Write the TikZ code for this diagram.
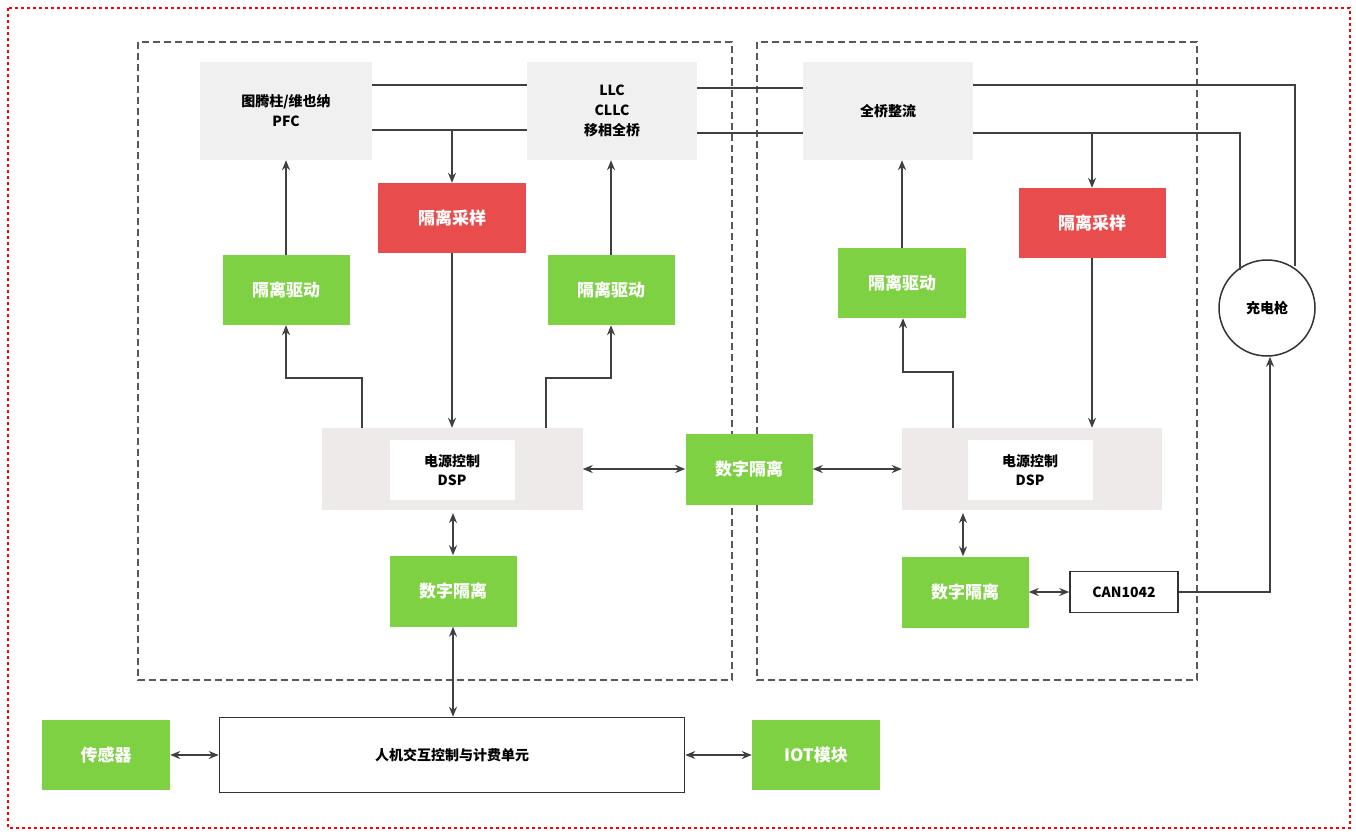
\documentclass[tikz,border=0pt]{standalone}
\usepackage{fontspec}
\setmainfont{Noto Sans CJK SC}
\usetikzlibrary{arrows.meta}
\definecolor{gr}{HTML}{7ED143}
\definecolor{rd}{HTML}{E84C4C}
\definecolor{lg}{HTML}{F0F0F0}
\definecolor{dg}{HTML}{EEEAEA}
\tikzset{
 bx/.style={inner sep=0pt,align=center},
 gbox/.style={bx,fill=gr,text=white,font=\fontsize{17}{20}\selectfont\bfseries},
 rbox/.style={bx,fill=rd,text=white,font=\fontsize{17}{20}\selectfont\bfseries},
 pbox/.style={bx,fill=lg,font=\fontsize{14}{20}\selectfont\bfseries},
 sm/.style={font=\fontsize{14}{19}\selectfont\bfseries},
 ln/.style={draw=black!75,line width=1.6pt},
 ar/.style={ln,-{Stealth[length=10pt,width=8pt]}},
 dar/.style={ln,{Stealth[length=10pt,width=8pt]}-{Stealth[length=10pt,width=8pt]}},
}
\begin{document}
\begin{tikzpicture}[x=1pt,y=-1pt]
\useasboundingbox (0,0) rectangle (1356,833);
\draw[red,dashed,line width=1.3pt] (8,8) rectangle (1350,828);
\draw[black!65,dashed,line width=2pt,dash pattern=on 7pt off 4pt] (138,42) rectangle (732,680);
\draw[black!65,dashed,line width=2pt,dash pattern=on 7pt off 4pt] (757,42) rectangle (1197,680);
% power boxes
\node[pbox,minimum width=172,minimum height=98] (pfc) at (286,111) {图腾柱/维也纳\\PFC};
\node[pbox,minimum width=170,minimum height=98] (llc) at (612,111) {LLC\\CLLC\\移相全桥};
\node[pbox,minimum width=170,minimum height=98] (qz) at (888,111) {全桥整流};
% sampling
\node[rbox,minimum width=148,minimum height=70] (s1) at (452,218) {隔离采样};
\node[rbox,minimum width=147,minimum height=70] (s2) at (1092,223) {隔离采样};
% drives
\node[gbox,minimum width=127,minimum height=70] (d1) at (286,290) {隔离驱动};
\node[gbox,minimum width=127,minimum height=70] (d2) at (611,290) {隔离驱动};
\node[gbox,minimum width=128,minimum height=70] (d3) at (902,283) {隔离驱动};
% DSP
\node[bx,fill=dg,minimum width=261,minimum height=82] (dsp1) at (452,469) {};
\node[bx,fill=white,minimum width=125,minimum height=60,sm] at (452,470) {电源控制\\DSP};
\node[bx,fill=dg,minimum width=260,minimum height=82] (dsp2) at (1032,469) {};
\node[bx,fill=white,minimum width=125,minimum height=60,sm] at (1030,470) {电源控制\\DSP};
% digital isolation
\node[gbox,minimum width=127,minimum height=71] (di0) at (749,469) {数字隔离};
\node[gbox,minimum width=127,minimum height=71] (di1) at (453,591) {数字隔离};
\node[gbox,minimum width=127,minimum height=71] (di2) at (965,592) {数字隔离};
\node[bx,draw=black!80,line width=1.5pt,minimum width=108,minimum height=41,sm] (can) at (1124,592) {CAN1042};
\node[circle,draw=black!80,line width=1.5pt,minimum size=96,inner sep=0pt,sm] (gun) at (1267,308) {充电枪};
% bottom
\node[bx,draw=black!80,line width=1.5pt,minimum width=465,minimum height=75,sm] (hmi) at (452,755) {人机交互控制与计费单元};
\node[gbox,minimum width=128,minimum height=70] (sen) at (106,755) {传感器};
\node[gbox,minimum width=128,minimum height=70] (iot) at (816,755) {IOT模块};
% power lines
\draw[ln] (pfc.east|-0,85) -- (llc.west|-0,85);
\draw[ln] (pfc.east|-0,130) -- (llc.west|-0,130);
\draw[ar] (452,130) -- (s1.north);
\draw[ln] (llc.east|-0,88) -- (qz.west|-0,88);
\draw[ln] (llc.east|-0,133) -- (qz.west|-0,133);
\draw[ln] (qz.east|-0,85) -- (1295,85) -- (1295,266);
\draw[ln] (qz.east|-0,133) -- (1240,133) -- (1240,270);
\draw[ar] (1092,133) -- (s2.north);
% drive arrows
\draw[ar] (d1.north) -- (pfc.south-|d1.north);
\draw[ar] (d2.north) -- (llc.south-|d2.north);
\draw[ar] (d3.north) -- (qz.south-|d3.north);
\draw[ar] (dsp1.north-|362,0) -- (362,378) -- (286,378) -- (d1.south);
\draw[ar] (dsp1.north-|546,0) -- (546,378) -- (611,378) -- (d2.south);
\draw[ar] (dsp2.north-|953,0) -- (953,372) -- (903,372) -- (d3.south-|903,0);
\draw[ar] (s1.south) -- (dsp1.north-|s1.south);
\draw[ar] (s2.south) -- (dsp2.north-|s2.south);
% double arrows
\draw[dar] (dsp1.east) -- (di0.west);
\draw[dar] (di0.east) -- (dsp2.west);
\draw[dar] (453,513) -- (di1.north);
\draw[dar] (di1.south) -- (hmi.north-|di1.south);
\draw[dar] (963,513) -- (di2.north-|963,0);
\draw[dar] (di2.east) -- (can.west);
\draw[ar] (can.east) -- (1270,592) -- (gun.south-|1270,0);
\draw[dar] (sen.east) -- (hmi.west);
\draw[dar] (hmi.east) -- (iot.west);
\end{tikzpicture}
\end{document}
